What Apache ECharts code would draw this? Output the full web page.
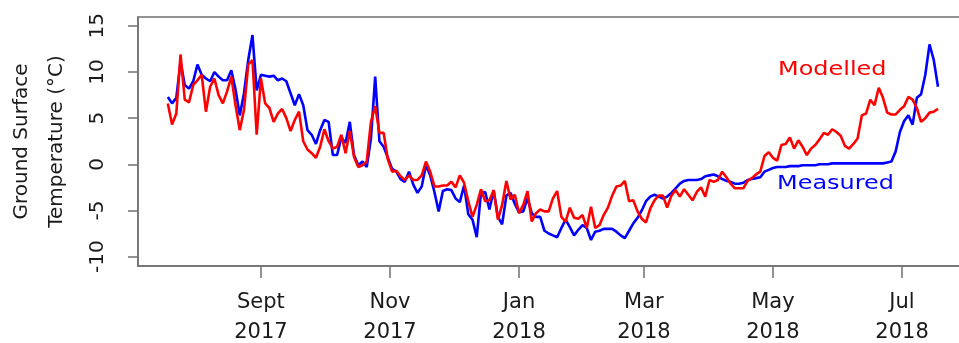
<!DOCTYPE html>
<html>
<head>
<meta charset="utf-8">
<script src="https://cdn.jsdelivr.net/npm/echarts@6/dist/echarts.min.js"></script>
<style>
  html, body { margin: 0; padding: 0; background: #ffffff; }
  #chart { width: 959px; height: 343px; }
</style>
</head>
<body>
<div id="chart"></div>
<script>
// Ground surface temperature, one value every 2 days starting 19 Jul 2017.
// Day numbers are counted from 1 Sep 2017.
const startDay = -44;
const stepDays = 2;

const measured = [
  7.3, 6.6, 7.2, 11.1, 8.6, 8.2, 9.0, 10.8, 9.7, 9.3,
  9.0, 10.0, 9.5, 9.1, 9.1, 10.2, 8.1, 5.3, 7.7, 11.3,
  14.0, 8.0, 9.7, 9.6, 9.5, 9.6, 9.1, 9.3, 9.0, 7.7,
  6.4, 7.6, 6.4, 3.7, 3.2, 2.2, 3.7, 4.8, 4.6, 1.0,
  1.0, 2.9, 2.3, 4.6, 1.0, -0.1, 0.3, -0.3, 2.8, 9.5,
  2.5, 1.9, 0.7, -0.5, -0.8, -1.6, -1.9, -0.8, -2.2, -3.1,
  -2.4, -0.1, -1.2, -3.0, -5.1, -2.9, -2.7, -2.8, -3.7, -4.1,
  -2.3, -5.4, -6.0, -7.9, -3.1, -3.0, -4.9, -2.8, -5.7, -6.5,
  -3.4, -3.1, -4.3, -5.2, -5.1, -3.7, -5.3, -5.7, -5.7, -7.2,
  -7.5, -7.7, -7.9, -6.9, -6.0, -6.8, -7.7, -7.1, -6.6, -6.9,
  -8.2, -7.3, -7.2, -7.0, -7.0, -7.0, -7.3, -7.7, -8.0, -7.2,
  -6.4, -5.8, -5.0, -4.0, -3.5, -3.3, -3.5, -3.7, -3.5, -3.1,
  -2.6, -2.1, -1.8, -1.7, -1.7, -1.7, -1.6, -1.3, -1.2, -1.1,
  -1.3, -1.6, -1.8, -1.9, -2.1, -2.1, -2.0, -1.7, -1.6, -1.5,
  -1.4, -0.8, -0.6, -0.4, -0.3, -0.3, -0.3, -0.2, -0.2, -0.2,
  -0.1, -0.1, -0.1, -0.1, 0.0, 0.0, 0.0, 0.1, 0.1, 0.1,
  0.1, 0.1, 0.1, 0.1, 0.1, 0.1, 0.1, 0.1, 0.1, 0.1,
  0.2, 0.3, 1.4, 3.5, 4.7, 5.3, 4.3, 7.2, 7.6, 9.7,
  13.0, 11.3, 8.4
];

const modelled = [
  6.6, 4.3, 5.5, 11.9, 7.0, 6.7, 8.6, 9.1, 9.7, 5.7,
  8.4, 9.3, 7.5, 6.6, 7.9, 9.5, 6.4, 3.7, 5.9, 10.8,
  11.3, 3.2, 9.3, 6.6, 6.1, 4.6, 5.5, 6.0, 5.0, 3.6,
  4.8, 5.7, 2.5, 1.6, 1.2, 0.7, 1.9, 3.8, 2.5, 1.7,
  1.9, 3.2, 1.2, 3.6, 0.8, -0.3, -0.1, 0.3, 4.6, 6.3,
  3.4, 3.4, 0.5, -0.8, -0.7, -1.3, -1.7, -1.2, -1.7, -1.7,
  -1.2, 0.3, -0.8, -2.4, -2.4, -2.3, -2.3, -1.9, -2.5, -1.2,
  -2.0, -4.0, -5.7, -4.4, -2.7, -4.0, -3.9, -2.8, -6.0, -4.4,
  -1.8, -3.8, -3.3, -5.3, -4.4, -2.9, -6.2, -5.3, -4.9, -5.1,
  -5.1, -3.7, -2.9, -5.7, -6.2, -4.7, -5.8, -5.9, -5.5, -6.9,
  -4.6, -6.9, -6.6, -5.5, -4.7, -3.4, -2.4, -2.3, -1.8, -4.0,
  -3.9, -5.1, -5.9, -6.3, -4.8, -3.9, -3.4, -3.4, -4.7, -3.4,
  -2.8, -3.5, -2.7, -3.3, -3.9, -3.0, -2.5, -3.5, -1.7, -1.9,
  -1.7, -0.8, -1.4, -2.1, -2.6, -2.6, -2.6, -1.8, -1.5, -1.1,
  -0.8, 0.9, 1.3, 0.7, 0.4, 2.1, 2.2, 2.9, 1.7, 2.6,
  1.9, 1.0, 1.7, 2.1, 2.7, 3.4, 3.2, 3.8, 3.5, 3.1,
  2.0, 1.7, 2.2, 2.8, 5.3, 5.5, 7.0, 6.4, 8.3, 7.2,
  5.6, 5.4, 5.4, 5.9, 6.3, 7.3, 7.0, 6.1, 4.6, 5.0,
  5.6, 5.7, 6.0
];

// First day of each labelled month, counted from 1 Sep 2017
const tickDays = [0, 61, 122, 181, 242, 303];
const tickLabels = ['Sept\n2017', 'Nov\n2017', 'Jan\n2018', 'Mar\n2018', 'May\n2018', 'Jul\n2018'];
const yTicks = [-10, -5, 0, 5, 10, 15];

const toPairs = arr => arr.map((v, i) => [startDay + i * stepDays, v]);

const FONT = '"DejaVu Sans", sans-serif';
const AXIS_COLOR = '#707070';
const TEXT_COLOR = '#1a1a1a';

const chart = echarts.init(document.getElementById('chart'), null, { renderer: 'canvas' });

chart.setOption({
  animation: false,
  backgroundColor: '#ffffff',
  grid: {
    left: 138, right: -12, top: 17, bottom: 77,
    outerBoundsMode: 'none', containLabel: false,
    show: true, borderColor: AXIS_COLOR, borderWidth: 1.5, backgroundColor: 'transparent'
  },
  xAxis: {
    type: 'value',
    min: -58.1, max: 335.6,
    splitLine: { show: false },
    axisLine: { show: true, onZero: false, lineStyle: { color: AXIS_COLOR, width: 1.5 } },
    axisTick: { show: true, customValues: tickDays, length: 12, lineStyle: { color: AXIS_COLOR, width: 1.5 } },
    axisLabel: {
      customValues: tickDays,
      formatter: v => tickLabels[tickDays.indexOf(v)] || '',
      fontFamily: FONT, fontSize: 21, color: TEXT_COLOR, lineHeight: 30, margin: 22
    }
  },
  yAxis: {
    type: 'value',
    min: -11.02, max: 15.96,
    splitLine: { show: false },
    axisLine: { show: true, onZero: false, lineStyle: { color: AXIS_COLOR, width: 1.5 } },
    axisTick: { show: true, customValues: yTicks, length: 10, lineStyle: { color: AXIS_COLOR, width: 1.5 } },
    axisLabel: {
      customValues: yTicks, rotate: 90,
      fontFamily: FONT, fontSize: 20, color: TEXT_COLOR, margin: 30
    },
    name: 'Ground Surface\nTemperature (°C)',
    nameLocation: 'middle', nameRotate: 90, nameGap: 64,
    nameTextStyle: { fontFamily: FONT, fontSize: 20, color: TEXT_COLOR, lineHeight: 35 }
  },
  series: [
    {
      name: 'Measured', type: 'line', data: toPairs(measured),
      showSymbol: false, lineStyle: { color: '#0000ff', width: 2.6 }, itemStyle: { color: '#0000ff' }
    },
    {
      name: 'Modelled', type: 'line', data: toPairs(modelled),
      showSymbol: false, lineStyle: { color: '#ff0000', width: 2.6 }, itemStyle: { color: '#ff0000' }
    }
  ],
  graphic: [
    { type: 'text', x: 778, y: 70, scaleX: 1.26,
      style: { text: 'Modelled', fill: '#ff0000', font: '19px ' + FONT, verticalAlign: 'middle' } },
    { type: 'text', x: 777, y: 184, scaleX: 1.26,
      style: { text: 'Measured', fill: '#0000ff', font: '19px ' + FONT, verticalAlign: 'middle' } }
  ]
});
</script>
</body>
</html>
